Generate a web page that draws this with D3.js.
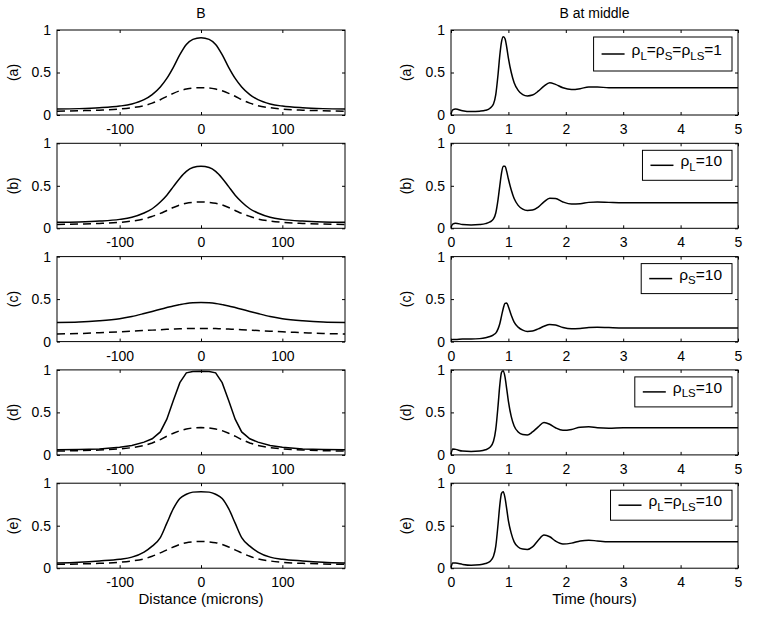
<!DOCTYPE html>
<html>
<head>
<meta charset="utf-8">
<script src="https://cdn.jsdelivr.net/npm/d3@7"></script>
<style>
  body { margin: 0; background: #fff; }
  text { font-family: "Liberation Sans", Arial, sans-serif; fill: #000; }
</style>
</head>
<body>
<svg id="chart" width="758" height="623"></svg>
<script>
// ---- data ----
const distance = [-177, -150, -125, -100, -85, -70, -60, -50, -42, -34, -26, -18, -10, 0,
                  10, 18, 26, 34, 42, 50, 60, 70, 85, 100, 125, 150, 177];

const solidA  = [0.07, 0.075, 0.085, 0.105, 0.13, 0.18, 0.24, 0.33, 0.43, 0.56, 0.71, 0.83, 0.89, 0.91,
                 0.89, 0.83, 0.71, 0.56, 0.43, 0.33, 0.24, 0.18, 0.13, 0.105, 0.085, 0.075, 0.07];
const dashedA = [0.045, 0.05, 0.057, 0.07, 0.085, 0.11, 0.14, 0.18, 0.22, 0.255, 0.285, 0.305, 0.318, 0.322,
                 0.318, 0.305, 0.285, 0.255, 0.22, 0.18, 0.14, 0.11, 0.085, 0.07, 0.057, 0.05, 0.045];
const solidB  = [0.07, 0.075, 0.085, 0.105, 0.13, 0.18, 0.23, 0.31, 0.39, 0.49, 0.59, 0.67, 0.715, 0.73,
                 0.715, 0.67, 0.59, 0.49, 0.39, 0.31, 0.23, 0.18, 0.13, 0.105, 0.085, 0.075, 0.07];
const dashedB = [0.045, 0.05, 0.057, 0.07, 0.085, 0.11, 0.14, 0.175, 0.21, 0.245, 0.275, 0.295, 0.305, 0.31,
                 0.305, 0.295, 0.275, 0.245, 0.21, 0.175, 0.14, 0.11, 0.085, 0.07, 0.057, 0.05, 0.045];
const solidC  = [0.225, 0.23, 0.245, 0.27, 0.295, 0.33, 0.355, 0.38, 0.40, 0.42, 0.435, 0.448, 0.456, 0.46,
                 0.456, 0.448, 0.435, 0.42, 0.40, 0.38, 0.355, 0.33, 0.295, 0.27, 0.245, 0.23, 0.225];
const dashedC = [0.09, 0.095, 0.105, 0.115, 0.122, 0.13, 0.135, 0.14, 0.144, 0.148, 0.151, 0.153, 0.155, 0.155,
                 0.155, 0.153, 0.151, 0.148, 0.144, 0.14, 0.135, 0.13, 0.122, 0.115, 0.105, 0.095, 0.09];
const solidD  = [0.06, 0.063, 0.07, 0.09, 0.11, 0.15, 0.19, 0.27, 0.42, 0.64, 0.85, 0.965, 0.98, 0.985,
                 0.98, 0.965, 0.85, 0.64, 0.42, 0.27, 0.19, 0.15, 0.11, 0.09, 0.07, 0.063, 0.06];
const dashedD = [0.045, 0.05, 0.057, 0.07, 0.085, 0.11, 0.14, 0.18, 0.22, 0.255, 0.285, 0.305, 0.318, 0.322,
                 0.318, 0.305, 0.285, 0.255, 0.22, 0.18, 0.14, 0.11, 0.085, 0.07, 0.057, 0.05, 0.045];
const solidE  = [0.06, 0.07, 0.085, 0.105, 0.13, 0.19, 0.26, 0.36, 0.53, 0.70, 0.82, 0.87, 0.895, 0.90,
                 0.895, 0.87, 0.82, 0.70, 0.53, 0.36, 0.26, 0.19, 0.13, 0.105, 0.085, 0.07, 0.06];
const dashedE = [0.045, 0.05, 0.057, 0.07, 0.085, 0.11, 0.14, 0.18, 0.215, 0.25, 0.28, 0.30, 0.31, 0.315,
                 0.31, 0.30, 0.28, 0.25, 0.215, 0.18, 0.14, 0.11, 0.085, 0.07, 0.057, 0.05, 0.045];

const hours = [0, 0.03, 0.08, 0.2, 0.35, 0.5, 0.6, 0.68, 0.74, 0.78, 0.82, 0.85, 0.88, 0.91, 0.94, 0.97,
               1.0, 1.05, 1.1, 1.17, 1.25, 1.33, 1.42, 1.52, 1.62, 1.72, 1.82, 1.95, 2.1, 2.25, 2.4, 2.55,
               2.75, 3.0, 3.5, 4.0, 4.5, 5.0];

const midA = [0.01, 0.06, 0.07, 0.05, 0.04, 0.045, 0.055, 0.08, 0.13, 0.24, 0.48, 0.70, 0.86, 0.92, 0.90, 0.80,
              0.67, 0.50, 0.38, 0.29, 0.24, 0.225, 0.235, 0.28, 0.34, 0.38, 0.36, 0.32, 0.30, 0.31, 0.33, 0.33,
              0.32, 0.32, 0.32, 0.32, 0.32, 0.32];
const midB = [0.01, 0.05, 0.06, 0.045, 0.04, 0.045, 0.055, 0.075, 0.11, 0.18, 0.34, 0.50, 0.65, 0.73, 0.73, 0.67,
              0.58, 0.45, 0.35, 0.27, 0.225, 0.21, 0.215, 0.25, 0.31, 0.355, 0.35, 0.31, 0.285, 0.29, 0.305, 0.31,
              0.305, 0.30, 0.30, 0.30, 0.30, 0.30];
const midC = [0.02, 0.025, 0.025, 0.03, 0.03, 0.035, 0.045, 0.06, 0.08, 0.10, 0.15, 0.21, 0.30, 0.39, 0.45, 0.455,
              0.41, 0.31, 0.23, 0.17, 0.135, 0.12, 0.125, 0.15, 0.18, 0.20, 0.195, 0.165, 0.15, 0.155, 0.165, 0.17,
              0.165, 0.16, 0.16, 0.16, 0.16, 0.16];
const midD = [0.01, 0.07, 0.065, 0.045, 0.04, 0.045, 0.06, 0.09, 0.16, 0.30, 0.58, 0.82, 0.97, 0.99, 0.92, 0.78,
              0.63, 0.45, 0.34, 0.27, 0.24, 0.235, 0.27, 0.33, 0.38, 0.36, 0.32, 0.29, 0.30, 0.325, 0.33, 0.32,
              0.315, 0.32, 0.32, 0.32, 0.32, 0.32];
const midE = [0.01, 0.06, 0.06, 0.045, 0.035, 0.04, 0.055, 0.08, 0.14, 0.26, 0.52, 0.74, 0.88, 0.90, 0.83, 0.70,
              0.56, 0.41, 0.31, 0.25, 0.225, 0.22, 0.25, 0.33, 0.39, 0.37, 0.32, 0.285, 0.295, 0.32, 0.33, 0.32,
              0.31, 0.31, 0.31, 0.31, 0.31, 0.31];

const panelTags = ["(a)", "(b)", "(c)", "(d)", "(e)"];
const distTicks = [-100, 0, 100];
const hourTicks = [0, 1, 2, 3, 4, 5];
const yTicks = [0, 0.5, 1];

// legend labels: [text, isSubscript]
const legendA = [["ρ"], ["L", 1], ["=ρ"], ["S", 1], ["=ρ"], ["LS", 1], ["=1"]];
const legendB = [["ρ"], ["L", 1], ["=10"]];
const legendC = [["ρ"], ["S", 1], ["=10"]];
const legendD = [["ρ"], ["LS", 1], ["=10"]];
const legendE = [["ρ"], ["L", 1], ["=ρ"], ["LS", 1], ["=10"]];

const profiles = [[solidA, dashedA], [solidB, dashedB], [solidC, dashedC], [solidD, dashedD], [solidE, dashedE]];
const middles = [midA, midB, midC, midD, midE];
const legends = [legendA, legendB, legendC, legendD, legendE];

// ---- layout ----
const svg = d3.select("#chart");
const top0 = 30, step = 113.3, ph = 85;
const left = { x0: 57, x1: 345 }, right = { x0: 451, x1: 738 };

const xDist = d3.scaleLinear().domain([-177, 177]).range([left.x0, left.x1]);
const xTime = d3.scaleLinear().domain([0, 5]).range([right.x0, right.x1]);
const plain = d => String(d);   // keep a plain hyphen for negatives

function frame(g, x, y, xTickVals) {
  const [xa, xb] = x.range();
  const [yb, ya] = y.range();
  g.append("g").attr("transform", `translate(0,${yb})`)
    .call(d3.axisBottom(x).tickValues(xTickVals).tickSize(-3).tickPadding(9).tickFormat(plain))
    .call(s => { s.select(".domain").remove(); s.selectAll("text").attr("font-size", 14).attr("font-family", null); });
  g.append("g").attr("transform", `translate(0,${ya})`)
    .call(d3.axisTop(x).tickValues(xTickVals).tickSize(-3).tickFormat(""))
    .call(s => s.select(".domain").remove());
  g.append("g").attr("transform", `translate(${xa},0)`)
    .call(d3.axisLeft(y).tickValues(yTicks).tickSize(-3).tickPadding(6).tickFormat(plain))
    .call(s => { s.select(".domain").remove(); s.selectAll("text").attr("font-size", 14).attr("font-family", null); });
  g.append("g").attr("transform", `translate(${xb},0)`)
    .call(d3.axisRight(y).tickValues(yTicks).tickSize(-3).tickFormat(""))
    .call(s => s.select(".domain").remove());
  g.append("rect").attr("x", xa).attr("y", ya).attr("width", xb - xa).attr("height", yb - ya)
    .attr("fill", "none").attr("stroke", "#000").attr("stroke-width", 1);
}

function tag(g, x, yMid, label) {
  g.append("text").attr("transform", `translate(${x},${yMid}) rotate(-90)`)
    .attr("text-anchor", "middle").attr("dy", "0.35em").attr("font-size", 14).text(label);
}

panelTags.forEach((label, i) => {
  const t = top0 + i * step;
  const y = d3.scaleLinear().domain([0, 1]).range([t + ph, t]);
  const g = svg.append("g");

  // left: profile along distance
  const [solid, dashed] = profiles[i];
  const lineL = d3.line().x((d, k) => xDist(distance[k])).y(d => y(d))
    .curve(i === 3 ? d3.curveLinear : d3.curveMonotoneX);
  g.append("path").datum(dashed).attr("d", lineL).attr("fill", "none")
    .attr("stroke", "#000").attr("stroke-width", 1.5).attr("stroke-dasharray", "8,5");
  g.append("path").datum(solid).attr("d", lineL).attr("fill", "none")
    .attr("stroke", "#000").attr("stroke-width", 1.5);
  frame(g, xDist, y, distTicks);
  tag(g, 13, t + ph / 2, label);

  // right: value at middle over time
  const lineR = d3.line().x((d, k) => xTime(hours[k])).y(d => y(d)).curve(d3.curveMonotoneX);
  g.append("path").datum(middles[i]).attr("d", lineR).attr("fill", "none")
    .attr("stroke", "#000").attr("stroke-width", 1.5);
  frame(g, xTime, y, hourTicks);
  tag(g, 406, t + ph / 2, label);

  // legend
  const lg = g.append("g");
  const txt = lg.append("text").attr("font-size", 15.5);
  let sub = false;
  legends[i].forEach(([s, isSub]) => {
    const ts = txt.append("tspan").text(s);
    if (isSub && !sub) ts.attr("dy", 4.5).attr("font-size", 11.5);
    else if (isSub) ts.attr("font-size", 11.5);
    else if (sub) ts.attr("dy", -4.5);
    sub = !!isSub;
  });
  const tw = txt.node().getComputedTextLength();
  const bw = tw + 48, bh = i === 0 ? 34 : 30;
  const bx = right.x1 - 6 - bw, by = t + 7;
  lg.insert("rect", "text").attr("x", bx).attr("y", by).attr("width", bw).attr("height", bh)
    .attr("fill", "#fff").attr("stroke", "#000").attr("stroke-width", 1);
  lg.insert("line", "text").attr("x1", bx + 8).attr("x2", bx + 31)
    .attr("y1", by + bh / 2).attr("y2", by + bh / 2).attr("stroke", "#000").attr("stroke-width", 1.5);
  txt.attr("x", bx + 38).attr("y", by + bh / 2 + 1);
});

// titles and axis labels
svg.append("text").attr("x", (left.x0 + left.x1) / 2).attr("y", 18).attr("text-anchor", "middle")
  .attr("font-size", 14).text("B");
svg.append("text").attr("x", (right.x0 + right.x1) / 2).attr("y", 18).attr("text-anchor", "middle")
  .attr("font-size", 14).text("B at middle");
svg.append("text").attr("x", (left.x0 + left.x1) / 2).attr("y", 604).attr("text-anchor", "middle")
  .attr("font-size", 15).text("Distance (microns)");
svg.append("text").attr("x", (right.x0 + right.x1) / 2).attr("y", 604).attr("text-anchor", "middle")
  .attr("font-size", 15).text("Time (hours)");
</script>
</body>
</html>
